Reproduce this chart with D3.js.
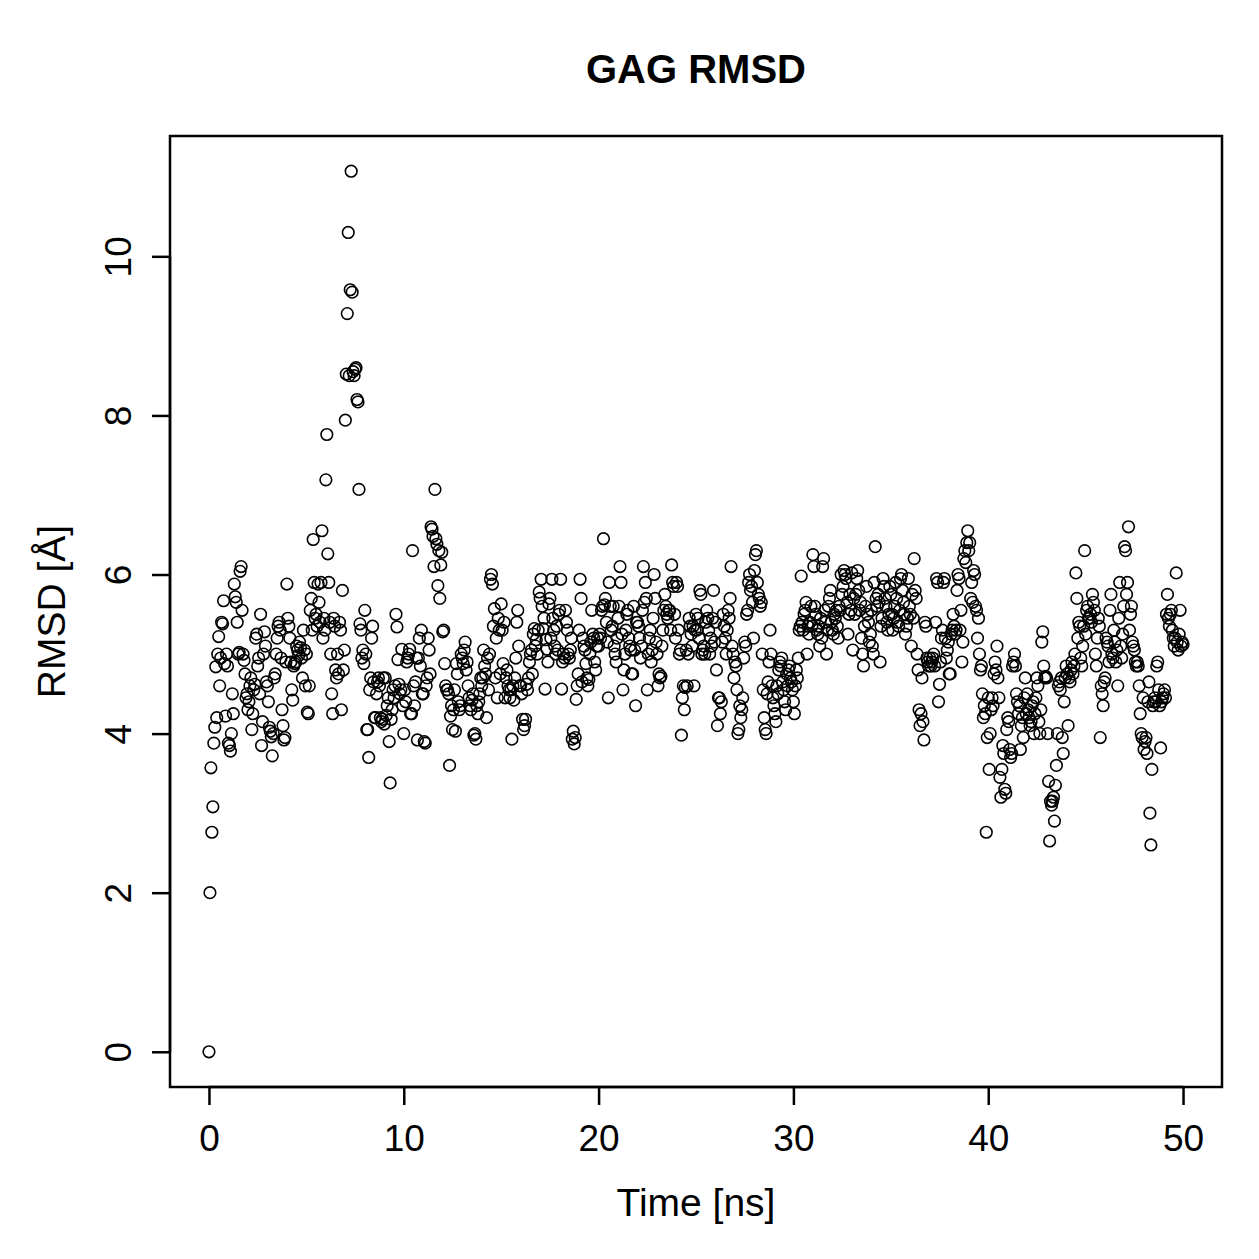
<!DOCTYPE html>
<html>
<head>
<meta charset="utf-8">
<script src="https://cdn.jsdelivr.net/npm/d3@7"></script>
<style>
  body { margin: 0; background: #fff; }
  text { font-family: "Liberation Sans", Arial, Helvetica, sans-serif; fill: #000; }
</style>
</head>
<body>
<div id="chart"></div>
<script>
const rmsd = [
  0, 2.0, 3.57, 2.76, 3.08, 3.88, 4.08, 4.84, 4.2, 5.0, 5.22, 4.6, 4.95, 5.4, 5.38, 5.67, 4.88, 4.22, 5.0, 4.85,
  3.88, 3.85, 3.78, 4.0, 4.5, 4.25, 5.88, 5.72, 5.65, 5.4, 5.0, 5.02, 6.04, 6.1, 5.55, 5.0, 4.92, 4.75, 4.45, 4.5,
  4.3, 4.4, 4.6, 4.7, 4.05, 4.25, 4.55, 4.62, 5.2, 5.25, 4.85, 4.95, 4.5, 5.5, 3.85, 4.15, 5.0, 5.28, 5.1, 4.65,
  4.6, 4.4, 4.08, 4.03, 3.96, 3.72, 4.0, 4.7, 4.75, 5.0, 5.2, 5.35, 5.4, 5.3, 4.95, 4.3, 4.1, 3.92, 3.95, 4.9,
  5.88, 5.45, 5.35, 5.2, 4.9, 4.55, 4.42, 4.85, 4.88, 4.9, 5.1, 5.05, 4.98, 5.15, 5.08, 4.95, 4.7, 5.3, 5.05, 4.6,
  5.0, 4.27, 4.25, 4.6, 5.55, 5.7, 5.3, 6.44, 5.9, 5.45, 5.5, 5.35, 5.88, 5.65, 5.4, 5.9, 6.55, 5.2, 5.45, 5.3,
  7.19, 7.76, 6.26, 5.9, 5.4, 5.0, 4.5, 4.25, 5.45, 5.35, 4.8, 4.7, 5.0, 4.75, 5.4, 5.3, 4.3, 5.8, 4.8, 5.05,
  7.94, 8.52, 9.28, 10.3, 8.5, 9.58, 11.07, 9.55, 8.55, 8.5, 8.58, 8.6, 8.2, 8.17, 7.07, 5.38, 5.3, 4.95, 5.05, 4.88,
  5.55, 5.0, 4.05, 4.05, 3.7, 4.55, 4.7, 5.2, 5.35, 4.65, 4.2, 4.2, 4.5, 4.65, 4.7, 4.6, 4.2, 4.15, 4.18, 4.7,
  4.12, 4.7, 4.23, 4.35, 4.45, 3.9, 3.38, 4.18, 4.3, 4.55, 4.45, 4.6, 5.5, 5.34, 4.93, 4.62, 4.5, 4.55, 5.06, 4.35,
  4.0, 4.55, 4.4, 4.9, 4.95, 5.0, 5.06, 4.25, 4.25, 6.3, 4.6, 4.35, 4.65, 4.95, 3.92, 4.95, 5.2, 4.85, 5.3, 4.5,
  4.5, 3.9, 3.88, 4.6, 4.7, 5.2, 5.05, 4.75, 6.6, 6.57, 6.48, 6.1, 7.07, 6.45, 6.38, 5.86, 6.3, 5.7, 6.12, 6.28,
  5.28, 5.3, 4.88, 4.6, 4.55, 4.55, 4.5, 3.6, 4.22, 4.35, 4.05, 4.3, 4.55, 4.03, 4.88, 4.75, 4.4, 4.3, 4.35, 5.0,
  4.95, 4.88, 5.05, 5.15, 4.8, 4.9, 4.6, 4.45, 4.35, 4.3, 4.42, 4.5, 3.98, 4.0, 3.93, 4.35, 4.25, 4.4, 4.5, 4.7,
  4.6, 4.7, 5.05, 4.85, 4.75, 4.2, 4.95, 4.55, 5.0, 5.94, 6.0, 5.88, 5.35, 5.57, 4.7, 5.2, 4.45, 5.45, 5.3, 4.75,
  5.63, 5.3, 4.88, 5.4, 4.45, 4.7, 4.8, 4.6, 4.55, 4.45, 4.55, 3.93, 4.6, 4.42, 4.7, 4.95, 5.4, 5.55, 5.1, 4.6,
  4.6, 4.5, 4.18, 4.05, 4.1, 4.18, 4.62, 4.55, 4.7, 4.9, 5.0, 5.05, 4.75, 5.25, 5.32, 5.1, 5.18, 5.0, 5.3, 5.78,
  5.7, 5.94, 5.6, 5.32, 5.45, 4.56, 5.18, 5.06, 4.9, 5.63, 5.7, 5.2, 5.94, 5.45, 5.3, 5.1, 5.0, 5.35, 5.05, 5.5,
  5.55, 5.94, 4.56, 4.9, 5.0, 4.95, 5.55, 5.4, 5.3, 5.0, 4.95, 5.05, 5.2, 3.93, 4.03, 3.87, 3.95, 4.43, 4.6, 4.75,
  5.3, 5.94, 5.7, 4.65, 5.2, 5.1, 5.05, 4.88, 4.7, 4.6, 4.68, 5.0, 5.15, 5.55, 5.25, 5.2, 4.9, 4.8, 5.1, 5.2,
  5.1, 5.25, 5.2, 5.55, 5.6, 6.45, 5.62, 5.7, 5.4, 5.15, 4.45, 5.9, 5.6, 5.3, 5.35, 5.6, 5.1, 5.0, 4.9, 5.2,
  5.45, 5.6, 6.1, 5.9, 5.25, 4.55, 4.8, 5.0, 5.3, 5.5, 5.55, 5.2, 5.1, 5.05, 4.75, 4.75, 5.6, 5.05, 4.35, 5.4,
  5.4, 5.35, 5.2, 4.95, 5.1, 5.55, 6.1, 5.65, 5.9, 5.7, 4.55, 5.0, 5.2, 5.3, 4.9, 5.05, 5.45, 6.0, 5.7, 5.15,
  5.0, 4.6, 4.75, 4.7, 4.72, 5.1, 5.3, 5.55, 5.75, 5.6, 5.5, 5.45, 5.55, 5.55, 5.3, 6.12, 5.9, 5.85, 5.5, 5.2,
  5.9, 5.85, 5.3, 5.0, 5.05, 3.98, 4.45, 4.6, 4.3, 4.58, 5.05, 4.6, 5.0, 5.45, 5.35, 5.25, 5.1, 5.35, 4.6, 5.3,
  5.5, 5.3, 5.45, 5.2, 5.8, 5.75, 5.0, 5.05, 5.1, 5.0, 5.4, 5.55, 5.45, 5.3, 5.0, 5.2, 5.1, 5.45, 5.8, 5.15,
  5.4, 4.8, 4.1, 4.45, 4.45, 4.25, 4.4, 5.15, 5.5, 5.35, 5.2, 5.0, 5.3, 5.55, 5.45, 5.7, 6.1, 5.1, 5.0, 4.7,
  4.9, 4.85, 4.55, 4.0, 4.05, 4.35, 4.2, 4.3, 4.45, 4.95, 5.15, 5.1, 5.5, 5.55, 5.9, 6.0, 5.8, 5.85, 5.65, 5.2,
  6.05, 6.25, 6.3, 5.9, 5.75, 5.7, 5.6, 5.65, 5.0, 4.55, 4.2, 4.05, 4.0, 4.5, 4.65, 4.9, 5.3, 5.0, 4.6, 4.45,
  4.35, 4.25, 4.15, 4.6, 4.5, 4.8, 4.9, 4.85, 4.95, 4.65, 4.55, 4.4, 4.3, 4.75, 4.6, 4.8, 4.85, 4.7, 4.65, 4.55,
  4.4, 4.25, 4.6, 4.8, 4.7, 4.95, 5.3, 5.35, 5.98, 5.4, 5.3, 5.5, 5.55, 5.65, 5.0, 5.35, 5.25, 5.4, 5.6, 5.35,
  6.25, 6.1, 5.6, 5.5, 5.3, 5.25, 5.35, 5.1, 5.45, 5.2, 6.1, 6.2, 5.55, 5.4, 5.0, 5.3, 5.6, 5.7, 5.8, 5.4,
  5.3, 5.25, 5.5, 5.45, 5.55, 5.35, 5.2, 5.6, 5.55, 6.0, 5.75, 5.85, 6.05, 6.0, 5.95, 5.65, 5.25, 5.5, 5.75, 5.55,
  6.02, 5.05, 5.7, 5.5, 5.75, 5.95, 6.05, 5.8, 5.55, 5.65, 5.2, 5.0, 4.85, 5.35, 5.6, 5.85, 5.5, 5.4, 5.15, 5.25,
  5.55, 5.1, 5.0, 5.9, 6.35, 5.7, 5.6, 5.75, 5.65, 4.9, 5.35, 5.45, 5.95, 5.85, 5.7, 5.6, 5.4, 5.3, 5.5, 5.85,
  5.75, 5.5, 5.3, 5.45, 5.6, 5.9, 5.7, 5.4, 5.35, 5.55, 5.95, 6.0, 5.8, 5.65, 5.5, 5.25, 5.35, 5.45, 5.95, 5.6,
  5.5, 5.1, 5.75, 5.45, 6.2, 5.8, 5.7, 5.0, 4.8, 4.3, 4.1, 4.25, 4.7, 4.15, 3.92, 5.4, 5.35, 4.95, 4.9, 4.85,
  4.95, 4.85, 4.9, 4.95, 5.0, 4.85, 5.4, 5.95, 5.9, 4.4, 4.62, 4.9, 5.2, 5.3, 5.9, 5.95, 5.2, 4.95, 5.05, 5.15,
  4.75, 4.75, 5.25, 5.3, 5.5, 5.35, 5.25, 5.3, 5.8, 6.0, 5.95, 5.3, 5.55, 4.9, 5.15, 6.2, 6.3, 6.15, 6.4, 6.55,
  6.3, 6.4, 5.7, 5.9, 5.65, 6.05, 6.0, 5.6, 5.55, 5.2, 5.45, 5.0, 4.8, 4.85, 4.5, 4.2, 4.35, 4.25, 2.76, 3.95,
  4.45, 3.55, 4.0, 4.3, 4.45, 4.35, 4.75, 4.9, 4.8, 5.1, 4.7, 4.45, 3.45, 3.2, 3.55, 3.85, 3.75, 3.3, 3.25, 4.05,
  4.2, 4.15, 3.8, 3.7, 3.75, 4.85, 4.9, 5.0, 4.85, 4.5, 4.4, 4.25, 4.35, 3.8, 4.1, 4.2, 3.95, 4.45, 4.7, 4.25,
  4.5, 4.3, 4.2, 4.1, 4.15, 4.35, 4.4, 4.0, 4.25, 4.45, 4.7, 4.6, 4.15, 4.0, 4.3, 5.15, 5.28, 4.85, 4.7, 4.72,
  4.7, 4.0, 3.4, 2.65, 3.15, 3.1, 3.15, 3.2, 2.9, 3.35, 3.6, 4.0, 4.6, 4.65, 4.55, 4.7, 3.95, 3.75, 4.4, 4.7,
  4.85, 4.75, 4.1, 4.7, 4.65, 4.8, 4.9, 4.75, 4.85, 5.0, 6.02, 5.7, 5.2, 5.4, 5.35, 4.95, 4.85, 5.1, 5.35, 6.3,
  5.25, 5.55, 5.6, 5.45, 5.45, 5.5, 5.4, 5.75, 5.65, 5.55, 5.0, 4.85, 5.2, 5.45, 5.35, 3.95, 4.6, 4.5, 4.35, 4.65,
  4.7, 5.2, 5.15, 5.1, 4.9, 5.55, 5.75, 5.0, 4.95, 5.3, 5.15, 4.9, 5.05, 4.6, 5.45, 5.9, 5.1, 4.95, 5.25, 5.6,
  6.35, 6.3, 5.75, 5.9, 6.6, 5.3, 5.5, 5.6, 5.15, 5.1, 5.05, 4.9, 4.85, 4.9, 4.85, 4.6, 4.25, 4.0, 3.95, 4.45,
  3.8, 3.9, 3.95, 3.75, 4.4, 4.65, 3.0, 2.6, 3.55, 4.35, 4.4, 4.45, 4.4, 4.85, 4.9, 4.55, 4.35, 3.82, 4.4, 4.45,
  4.5, 4.55, 4.45, 5.5, 5.75, 5.45, 5.35, 5.5, 5.55, 5.3, 5.2, 5.1, 5.2, 6.02, 5.15, 5.05, 5.25, 5.55, 5.1, 5.15,
  5.12
];
const timeStep = 0.05;
const times = rmsd.map((d, i) => +(i * timeStep).toFixed(2));

const xTicks = [0, 10, 20, 30, 40, 50];
const yTicks = [0, 2, 4, 6, 8, 10];

const chartTitle = "GAG RMSD";
const xLabel = "Time [ns]";
const yLabel = "RMSD [Å]";

const width = 1259;
const height = 1259;
const margin = { top: 136, right: 37, bottom: 172, left: 170 };
const plotW = width - margin.left - margin.right;
const plotH = height - margin.top - margin.bottom;

const svg = d3.select("#chart")
  .append("svg")
  .attr("width", width)
  .attr("height", height);

// R style 4% padding on each side
const xExt = d3.extent(times);
const yExt = d3.extent(rmsd);
const xPad = (xExt[1] - xExt[0]) * 0.04;
const yPad = (yExt[1] - yExt[0]) * 0.04;

const x = d3.scaleLinear()
  .domain([xExt[0] - xPad, xExt[1] + xPad])
  .range([margin.left, margin.left + plotW]);
const y = d3.scaleLinear()
  .domain([yExt[0] - yPad, yExt[1] + yPad])
  .range([margin.top + plotH, margin.top]);

// points
svg.append("g")
  .selectAll("circle")
  .data(rmsd)
  .join("circle")
  .attr("cx", (d, i) => x(times[i]))
  .attr("cy", d => y(d))
  .attr("r", 5.8)
  .attr("fill", "none")
  .attr("stroke", "#000")
  .attr("stroke-width", 1.6);

// box around the plot region
svg.append("rect")
  .attr("x", margin.left)
  .attr("y", margin.top)
  .attr("width", plotW)
  .attr("height", plotH)
  .attr("fill", "none")
  .attr("stroke", "#000")
  .attr("stroke-width", 2.5);

// x axis
const xAxis = d3.axisBottom(x)
  .tickValues(xTicks)
  .tickSize(18)
  .tickPadding(20)
  .tickSizeOuter(0);

const gx = svg.append("g")
  .attr("transform", `translate(0, ${margin.top + plotH})`)
  .call(xAxis);
gx.select(".domain")
  .attr("d", `M${x(xTicks[0])},0H${x(xTicks[xTicks.length - 1])}`)
  .attr("stroke-width", 2.5);
gx.selectAll(".tick line").attr("stroke-width", 2.5);
gx.selectAll(".tick text")
  .style("font-size", "37px")
  .style("font-family", "'Liberation Sans', Arial, sans-serif");

// y axis, labels rotated like R's las = 0
const yAxis = d3.axisLeft(y)
  .tickValues(yTicks)
  .tickSize(18)
  .tickSizeOuter(0)
  .tickFormat(d3.format("d"));

const gy = svg.append("g")
  .attr("transform", `translate(${margin.left}, 0)`)
  .call(yAxis);
gy.select(".domain")
  .attr("d", `M0,${y(yTicks[0])}V${y(yTicks[yTicks.length - 1])}`)
  .attr("stroke-width", 2.5);
gy.selectAll(".tick line").attr("stroke-width", 2.5);
gy.selectAll(".tick text")
  .attr("x", null)
  .attr("dy", null)
  .attr("transform", "translate(-39, 0) rotate(-90)")
  .attr("text-anchor", "middle")
  .attr("dominant-baseline", "auto")
  .attr("y", 0)
  .style("font-size", "37px")
  .style("font-family", "'Liberation Sans', Arial, sans-serif");

// title and axis labels
svg.append("text")
  .attr("x", margin.left + plotW / 2)
  .attr("y", 83)
  .attr("text-anchor", "middle")
  .style("font-size", "40px")
  .style("font-weight", "bold")
  .text(chartTitle);

svg.append("text")
  .attr("x", margin.left + plotW / 2)
  .attr("y", 1216)
  .attr("text-anchor", "middle")
  .style("font-size", "39px")
  .text(xLabel);

svg.append("text")
  .attr("transform", `translate(65, ${margin.top + plotH / 2}) rotate(-90)`)
  .attr("text-anchor", "middle")
  .style("font-size", "39px")
  .text(yLabel);
</script>
</body>
</html>
